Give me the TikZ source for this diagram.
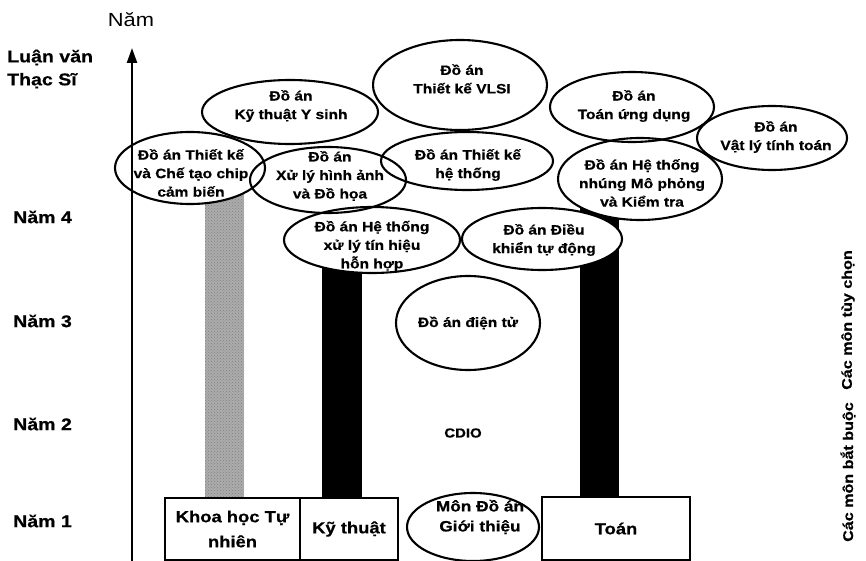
\documentclass[tikz,border=0pt]{standalone}
\usepackage{fontspec}
\setmainfont{Liberation Sans}[FakeStretch=1.15,BoldFeatures={FakeBold=0.6}]
\usetikzlibrary{shapes.geometric,arrows.meta,patterns,calc}
\pgfdeclarelayer{bars}
\pgfdeclarelayer{fills}
\pgfsetlayers{bars,fills,main}
\begin{document}
\begin{tikzpicture}[x=1pt,y=-1pt,
  proj/.style={ellipse,draw,line width=2.1pt,inner sep=0pt},
  projfill/.style={ellipse,fill=white,inner sep=0pt},
  ptext/.style={font=\bfseries\fontsize{13.5}{18.5}\selectfont,align=center,inner sep=0pt},
  subject/.style={draw,line width=1.8pt,inner sep=0pt,align=center,
    font=\bfseries\fontsize{16}{25}\selectfont},
  yearlbl/.style={anchor=west,inner sep=0pt,align=left,
    font=\bfseries\fontsize{17}{23}\selectfont},
  sidelbl/.style={rotate=90,inner sep=0pt,font=\bfseries\fontsize{14}{16}\selectfont},
  darkbar/.style={fill=black},
  lightbar/.style={fill=gray!65,postaction={pattern=crosshatch dots,pattern color=gray}},
  axis/.style={line width=2.4pt,-{Triangle[width=10pt,length=15pt]}}]
\useasboundingbox (0,0) rectangle (866,561);

% time axis
\coordinate (axb) at (132,561);
\coordinate (axt) at (132,48);
\draw[axis] (axb) -- (axt);
\node[font=\fontsize{19}{20}\selectfont,inner sep=0pt] (axlbl) at (131,20) {Năm};

% year labels
\node[yearlbl] (ms) at (7,69) {Luận văn\\Thạc Sĩ};
\node[yearlbl] (y4) at (13,217) {Năm 4};
\node[yearlbl] (y3) at (13,321) {Năm 3};
\node[yearlbl] (y2) at (13,424) {Năm 2};
\node[yearlbl] (y1) at (13,521) {Năm 1};

% side labels
\node[sidelbl] (opt) at (848,320) {Các môn tùy chọn};
\node[sidelbl] (req) at (848,472) {Các môn bắt buộc};

% first-year subjects
\node[subject,minimum width=135pt,minimum height=62pt] (khoa) at (232.5,529) {Khoa học Tự\\nhiên};
\node[subject,minimum width=98pt,minimum height=62pt] (kt) at (349,529) {Kỹ thuật};
\node[subject,minimum width=148pt,minimum height=63pt] (toan) at (616,528.5) {Toán};

% project ellipses (outline on main layer, white body underneath)
\foreach \n/\cx/\cy/\w/\h in {
  e1/460/85/174/90, e2/290/112/176/64, e3/190/168/150/72,
  e4/328/180/156/66, e5/467/161/172/58, e6/372/240/176/66,
  e7/542/239/160/62, e8/468/323/144/94, e9/632/107/164/70,
  e10/772/138/150/64, e11/640/179/164/82, e12/473/527/132/68} {
  \node[proj,minimum width=\w pt,minimum height=\h pt] (\n) at (\cx,\cy) {};
  \begin{pgfonlayer}{fills}
    \node[projfill,minimum width=\w pt,minimum height=\h pt] at (\cx,\cy) {};
  \end{pgfonlayer}
}

% project titles
\node[ptext] (t1) at (462,79) {Đồ án\\Thiết kế VLSI};
\node[ptext] (t2) at (291,106) {Đồ án\\Kỹ thuật Y sinh};
\node[ptext] (t3) at (191,173) {Đồ án Thiết kế\\và Chế tạo chip\\cảm biến};
\node[ptext] (t4) at (330,176) {Đồ án\\Xử lý hình ảnh\\và Đồ họa};
\node[ptext] (t5) at (468,165) {Đồ án Thiết kế\\hệ thống};
\node[ptext] (t6) at (372,246) {Đồ án Hệ thống\\xử lý tín hiệu\\hỗn hợp};
\node[ptext] (t7) at (544,240) {Đồ án Điều\\khiển tự động};
\node[ptext] (t8) at (468,323) {Đồ án điện tử};
\node[ptext] (t9) at (634,106) {Đồ án\\Toán ứng dụng};
\node[ptext] (t10) at (776,137) {Đồ án\\Vật lý tính toán};
\node[ptext] (t11) at (642,183) {Đồ án Hệ thống\\nhúng Mô phỏng\\và Kiểm tra};
\node[ptext,font=\bfseries\fontsize{15}{20}\selectfont] (t12) at (480,517) {Môn Đồ án\\Giới thiệu};

\node[ptext,font=\bfseries\fontsize{13}{15}\selectfont] (cdio) at (463,433) {CDIO};

% pillars linking the first-year subjects to the projects
\begin{pgfonlayer}{bars}
  \path[lightbar] ($(khoa.north west)+(41,0)$) rectangle ($(e3.center)+(54,22)$);
  \path[darkbar] ($(kt.north west)+(23,0)$) rectangle ($(e6.center)+(-10,20)$);
  \path[darkbar] ($(toan.north west)+(39,0)$) rectangle ($(e11.center)+(-21,21)$);
\end{pgfonlayer}
\end{tikzpicture}
\end{document}
